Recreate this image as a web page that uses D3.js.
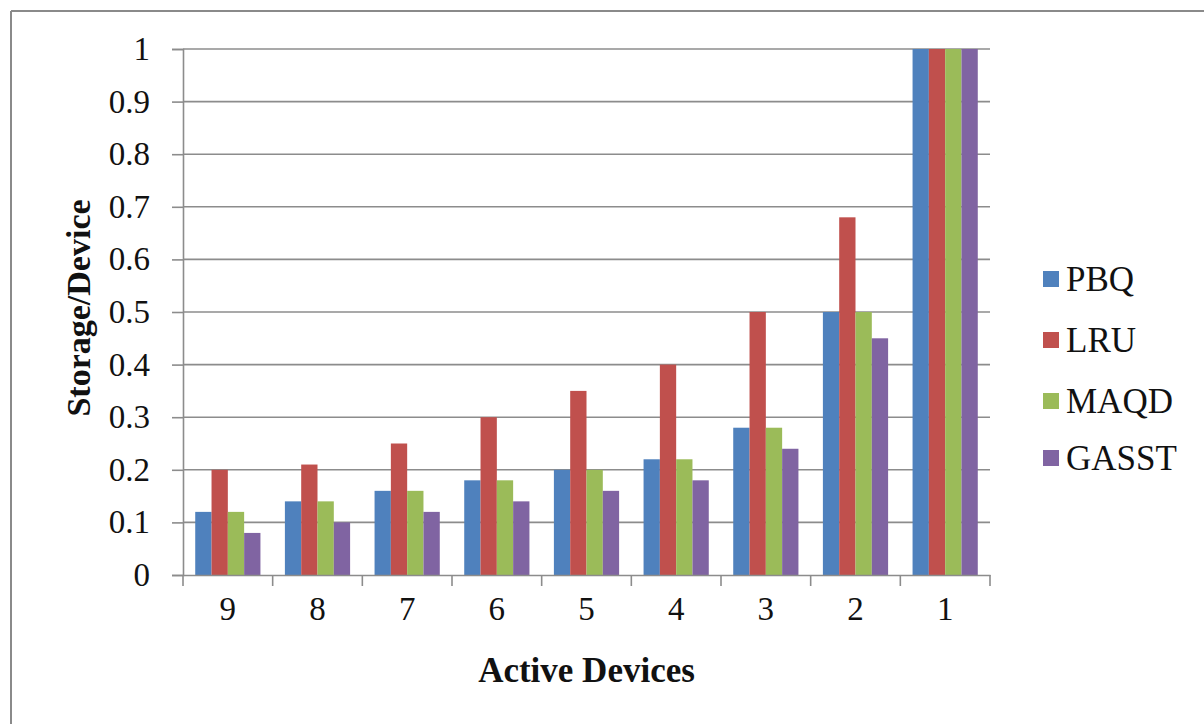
<!DOCTYPE html>
<html>
<head>
<meta charset="utf-8">
<script src="https://cdn.jsdelivr.net/npm/d3@7"></script>
<style>
  html, body { margin: 0; padding: 0; background: #fff; }
  svg { display: block; }
  text { font-family: "Liberation Serif", "Times New Roman", serif; fill: #111; }
</style>
</head>
<body>
<svg id="chart" width="1204" height="724"></svg>
<script>
const categories = ["9", "8", "7", "6", "5", "4", "3", "2", "1"];
const seriesNames = ["PBQ", "LRU", "MAQD", "GASST"];
const PBQ   = [0.12, 0.14, 0.16, 0.18, 0.20, 0.22, 0.28, 0.50, 1.0];
const LRU   = [0.20, 0.21, 0.25, 0.30, 0.35, 0.40, 0.50, 0.68, 1.0];
const MAQD  = [0.12, 0.14, 0.16, 0.18, 0.20, 0.22, 0.28, 0.50, 1.0];
const GASST = [0.08, 0.10, 0.12, 0.14, 0.16, 0.18, 0.24, 0.45, 1.0];
const yTicks = [0, 0.1, 0.2, 0.3, 0.4, 0.5, 0.6, 0.7, 0.8, 0.9, 1];
const colors = ["#4F81BD", "#C0504D", "#9BBB59", "#8064A2"];

const seriesValues = [PBQ, LRU, MAQD, GASST];

const svg = d3.select("#chart");

// outer frame (top and left edges visible)
svg.append("line").attr("x1", 11).attr("x2", 1204).attr("y1", 11).attr("y2", 11)
  .attr("stroke", "#8a8a8a").attr("stroke-width", 2);
svg.append("line").attr("x1", 11).attr("x2", 11).attr("y1", 11).attr("y2", 724)
  .attr("stroke", "#8a8a8a").attr("stroke-width", 2);

const pLeft = 183, pRight = 990, pTop = 49, pBottom = 575;

const x = d3.scaleBand().domain(categories).range([pLeft, pRight]).paddingInner(0).paddingOuter(0);
const y = d3.scaleLinear().domain([0, 1]).range([pBottom, pTop]);

const gridColor = "#8c8c8c";

// gridlines
svg.append("g").selectAll("line").data(yTicks.filter(d => d > 0)).join("line")
  .attr("x1", pLeft).attr("x2", pRight)
  .attr("y1", d => y(d)).attr("y2", d => y(d))
  .attr("stroke", gridColor).attr("stroke-width", 1.6);

// bars
const groupW = x.bandwidth() * (4 / 5.5);
const x1 = d3.scaleBand().domain(seriesNames).range([0, groupW]).padding(0);
const offset = (x.bandwidth() - groupW) / 2;

const gBars = svg.append("g");
seriesNames.forEach((s, si) => {
  gBars.append("g").selectAll("rect").data(seriesValues[si]).join("rect")
    .attr("x", (d, i) => x(categories[i]) + offset + x1(s))
    .attr("width", x1.bandwidth())
    .attr("y", d => y(d))
    .attr("height", d => y(0) - y(d))
    .attr("fill", colors[si]);
});

// y axis
const yAxis = d3.axisLeft(y).tickValues(yTicks).tickSize(11).tickPadding(22)
  .tickFormat(d => d === 0 || d === 1 ? String(d) : d3.format(".1f")(d));
const gy = svg.append("g").attr("transform", `translate(${pLeft},0)`).call(yAxis);
gy.select(".domain").attr("stroke", gridColor).attr("stroke-width", 1.6);
gy.selectAll(".tick line").attr("stroke", gridColor).attr("stroke-width", 1.6);
gy.selectAll(".tick text").attr("font-family", "Liberation Serif").attr("font-size", 33).attr("fill", "#111");

// x axis
const xAxis = d3.axisBottom(x).tickSize(0).tickPadding(45);
const gx = svg.append("g").attr("transform", `translate(0,${pBottom})`).call(xAxis);
gx.select(".domain").attr("stroke", gridColor).attr("stroke-width", 1.6);
gx.selectAll(".tick text").attr("font-family", "Liberation Serif").attr("font-size", 33).attr("fill", "#111")
  .attr("dy", "0");
// boundary tick marks
const bounds = categories.map(c => x(c)).concat([pRight]);
svg.append("g").selectAll("line").data(bounds).join("line")
  .attr("x1", d => d).attr("x2", d => d)
  .attr("y1", pBottom).attr("y2", pBottom + 11)
  .attr("stroke", gridColor).attr("stroke-width", 1.6);

// axis titles
svg.append("text").attr("x", (pLeft + pRight) / 2).attr("y", 682)
  .attr("text-anchor", "middle").attr("font-weight", "bold").attr("font-size", 35)
  .text("Active Devices");
svg.append("text").attr("transform", `translate(90,${(pTop + pBottom) / 2 - 4}) rotate(-90)`)
  .attr("text-anchor", "middle").attr("font-weight", "bold").attr("font-size", 34)
  .text("Storage/Device");

// legend
const legendY = [279, 340, 401, 458];
const lg = svg.append("g");
seriesNames.forEach((s, i) => {
  lg.append("rect").attr("x", 1043).attr("y", legendY[i] - 8).attr("width", 16).attr("height", 16)
    .attr("fill", colors[i]);
  lg.append("text").attr("x", 1066).attr("y", legendY[i]).attr("dominant-baseline", "central")
    .attr("font-size", 35).text(s);
});
</script>
</body>
</html>
